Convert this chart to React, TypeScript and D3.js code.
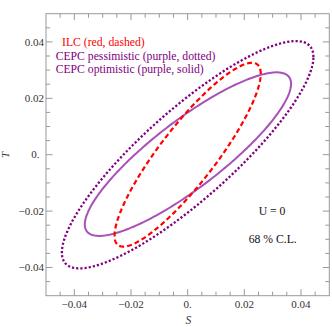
import React from "react";
import * as d3 from "d3";

// confidence ellipses in the (S, T) plane, U = 0
const ellipseNames = ["CEPC pessimistic", "CEPC optimistic", "ILC"];
const centerS = [0.0, 0.0001, 0.0];
const centerT = [0.0, 0.0002, 0.0];
const sigmaS = [0.0444, 0.0364, 0.0258];
const sigmaT = [0.0403, 0.029, 0.0326];
const rho = [0.86, 0.86, 0.88];

const majorTicks = [-0.04, -0.02, 0, 0.02, 0.04];
const minorTicks = [
  -0.045, -0.035, -0.03, -0.025, -0.015, -0.01, -0.005, 0.005, 0.01, 0.015,
  0.025, 0.03, 0.035, 0.045,
];

const legendLabels = [
  "ILC (red, dashed)",
  "CEPC pessimistic (purple, dotted)",
  "CEPC optimistic (purple, solid)",
];

const W = 332;
const H = 327;
const left = 46;
const right = 329.3;
const top = 13.7;
const bottom = 295.7;
const font = "'Liberation Serif', 'Times New Roman', serif";

const styles = [
  { stroke: "#800080", dash: "2.2,2", width: 2.3 },
  { stroke: "#a852b7", dash: "none", width: 2 },
  { stroke: "#ff0000", dash: "5,3", width: 2.2 },
];

const fmt = (v: number) =>
  v === 0 ? "0." : (v < 0 ? "\u2212" : "") + Math.abs(v).toFixed(2);

export default function App() {
  const x = d3.scaleLinear().domain([-0.05, 0.05]).range([left, right]);
  const y = d3.scaleLinear().domain([-0.05, 0.05]).range([bottom, top]);

  const line = d3
    .line<[number, number]>()
    .x((d) => x(d[0]))
    .y((d) => y(d[1]))
    .curve(d3.curveLinearClosed);

  const angles = d3.range(0, 2 * Math.PI, Math.PI / 120);
  const paths = ellipseNames.map((_, i) => {
    const pts: [number, number][] = angles.map((t) => [
      centerS[i] + sigmaS[i] * Math.cos(t),
      centerT[i] +
        sigmaT[i] * (rho[i] * Math.cos(t) + Math.sqrt(1 - rho[i] ** 2) * Math.sin(t)),
    ]);
    return line(pts) || "";
  });

  const tickColor = "#999";
  const majorLen = 6.5;
  const minorLen = 4;

  return (
    <svg
      width={W}
      height={H}
      style={{ position: "absolute", left: 0, top: 0, background: "#fff" }}
    >
      {/* ellipses */}
      {paths.map((d, i) => (
        <path
          key={i}
          d={d}
          fill="none"
          stroke={styles[i].stroke}
          strokeWidth={styles[i].width}
          strokeDasharray={styles[i].dash}
        />
      ))}

      {/* frame */}
      <rect
        x={left}
        y={top}
        width={right - left}
        height={bottom - top}
        fill="none"
        stroke={tickColor}
        strokeWidth={1}
      />

      {/* ticks on all four sides */}
      {[...majorTicks.map((v) => [v, majorLen]), ...minorTicks.map((v) => [v, minorLen])].map(
        ([v, len], i) => (
          <g key={"t" + i} stroke={tickColor} strokeWidth={1}>
            <line x1={x(v)} x2={x(v)} y1={bottom} y2={bottom - len} />
            <line x1={x(v)} x2={x(v)} y1={top} y2={top + len} />
            <line x1={left} x2={left + len} y1={y(v)} y2={y(v)} />
            <line x1={right} x2={right - len} y1={y(v)} y2={y(v)} />
          </g>
        )
      )}

      {/* tick labels */}
      {majorTicks.map((v) => (
        <text
          key={"xl" + v}
          x={x(v)}
          y={308}
          textAnchor="middle"
          fontFamily={font}
          fontSize={11}
          fill="#333"
        >
          {fmt(v)}
        </text>
      ))}
      {majorTicks.map((v) => (
        <text
          key={"yl" + v}
          x={v === 0 ? 39.5 : 44}
          y={y(v) + 3.7}
          textAnchor="end"
          fontFamily={font}
          fontSize={11}
          fill="#333"
        >
          {fmt(v)}
        </text>
      ))}

      {/* axis titles */}
      <text
        x={188.3}
        y={324}
        textAnchor="middle"
        fontFamily={font}
        fontStyle="italic"
        fontSize={11.5}
        fill="#333"
      >
        S
      </text>
      <text
        transform={`translate(8.5,155) rotate(-90)`}
        textAnchor="middle"
        fontFamily={font}
        fontStyle="italic"
        fontSize={11}
        fill="#333"
      >
        T
      </text>

      {/* legend */}
      <text x={62} y={45.7} fontFamily={font} fontSize={11.7} fill="#ff0000">
        {legendLabels[0]}
      </text>
      <text x={55.7} y={59.5} fontFamily={font} fontSize={11.7} fill="#800080">
        {legendLabels[1]}
      </text>
      <text x={55.7} y={73.3} fontFamily={font} fontSize={11.7} fill="#800080">
        {legendLabels[2]}
      </text>

      {/* annotations */}
      <text x={272} y={215} textAnchor="middle" fontFamily={font} fontSize={11.7} fill="#111">
        U = 0
      </text>
      <text x={272.7} y={243} textAnchor="middle" fontFamily={font} fontSize={11.7} fill="#111">
        68 % C.L.
      </text>
    </svg>
  );
}
